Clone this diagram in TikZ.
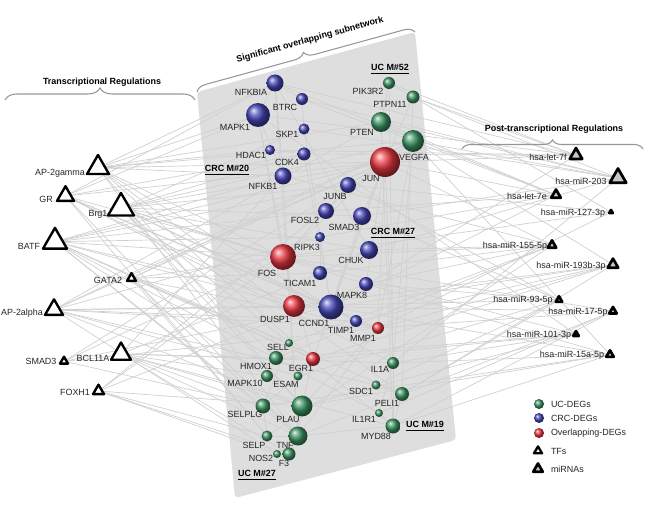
\documentclass[tikz,border=0pt]{standalone}
\usepackage{fontspec}
\setmainfont{Liberation Sans}
\usetikzlibrary{shapes.geometric,decorations.pathreplacing,backgrounds}
\definecolor{ucGene}{RGB}{62,150,100}
\definecolor{crcGene}{RGB}{70,70,185}
\definecolor{ovGene}{RGB}{235,55,65}
\definecolor{panelGray}{RGB}{222,222,222}
\definecolor{edgeGray}{RGB}{208,208,208}
\definecolor{braceGray}{RGB}{150,150,150}
\definecolor{mirFill}{RGB}{200,200,200}
\tikzset{
    every node/.append style={font=\fontsize{5.1}{6}\selectfont,inner sep=0pt,outer sep=0pt},
    gene/.style={circle,minimum size=#1*0.02cm},
    uc/.style={gene=#1,ball color=ucGene},
    crc/.style={gene=#1,ball color=crcGene},
    ovl/.style={gene=#1,ball color=ovGene},
    tri/.style={regular polygon,regular polygon sides=3,minimum size=#1*0.02cm,draw=black,line join=round},
    tf/.style={tri=#1,fill=white,line width=1.35pt},
    mir/.style={tri=#1,fill=mirFill,line width=1.55pt},
    lbl/.style={text=black!85},
    module/.style={font=\fontsize{5.1}{6}\selectfont\bfseries},
    head/.style={font=\fontsize{5.1}{6}\selectfont\bfseries},
    edge/.style={draw=edgeGray,line width=0.4pt},
    bracket/.style={draw=braceGray,line width=0.6pt,decorate,decoration={brace,amplitude=#1*0.02cm}}
}
\begin{document}
\begin{tikzpicture}[x=0.02cm,y=-0.02cm]
    \useasboundingbox (0,0) rectangle (650,517);

    % CRC M#20
    \node[crc=17] (nfkbia) at (275,83)  {};  \node[lbl] (nfkbia-l) at (251,92)  {NFKBIA};
    \node[crc=12] (btrc)   at (302,99)  {};  \node[lbl] (btrc-l)   at (285,107) {BTRC};
    \node[crc=24] (mapk1)  at (258,115) {};  \node[lbl] (mapk1-l)  at (235,127) {MAPK1};
    \node[crc=11] (skp1)   at (304,129) {};  \node[lbl] (skp1-l)   at (287,134) {SKP1};
    \node[crc=10] (hdac1)  at (270,150) {};  \node[lbl] (hdac1-l)  at (251,155) {HDAC1};
    \node[crc=13] (cdk4)   at (304,154) {};  \node[lbl] (cdk4-l)   at (287,162) {CDK4};
    \node[crc=17] (nfkb1)  at (283,176) {};  \node[lbl] (nfkb1-l)  at (263,186) {NFKB1};
    % UC M#52
    \node[uc=12]  (pik3r2) at (389,83)  {};  \node[lbl] (pik3r2-l) at (368,91)  {PIK3R2};
    \node[uc=13]  (ptpn11) at (413,97)  {};  \node[lbl] (ptpn11-l) at (390,104) {PTPN11};
    \node[uc=20]  (pten)   at (381,122) {};  \node[lbl] (pten-l)   at (362,132) {PTEN};
    \node[uc=22]  (vegfa)  at (413,141) {};  \node[lbl] (vegfa-l)  at (414,157) {VEGFA};
    \node[ovl=30] (jun)    at (385,162) {};  \node[lbl] (jun-l)    at (371,178) {JUN};
    % CRC M#27
    \node[crc=16] (junb)   at (348,185) {};  \node[lbl] (junb-l)   at (335,196) {JUNB};
    \node[crc=16] (fosl2)  at (326,211) {};  \node[lbl] (fosl2-l)  at (305,220) {FOSL2};
    \node[crc=18] (smad3)  at (362,216) {};  \node[lbl] (smad3-l)  at (344,227) {SMAD3};
    \node[crc=10] (ripk3)  at (320,237) {};  \node[lbl] (ripk3-l)  at (307,247) {RIPK3};
    \node[ovl=26] (fos)    at (283,257) {};  \node[lbl] (fos-l)    at (267,273) {FOS};
    \node[crc=18] (chuk)   at (369,250) {};  \node[lbl] (chuk-l)   at (351,260) {CHUK};
    \node[crc=14] (ticam1) at (320,273) {};  \node[lbl] (ticam1-l) at (300,283) {TICAM1};
    \node[crc=14] (mapk8)  at (366,284) {};  \node[lbl] (mapk8-l)  at (352,295) {MAPK8};
    \node[ovl=22] (dusp1)  at (294,306) {};  \node[lbl] (dusp1-l)  at (275,319) {DUSP1};
    \node[crc=25] (ccnd1)  at (331,307) {};  \node[lbl] (ccnd1-l)  at (314,323) {CCND1};
    \node[crc=12] (timp1)  at (356,321) {};  \node[lbl] (timp1-l)  at (341,330) {TIMP1};
    \node[ovl=12] (mmp1)   at (378,328) {};  \node[lbl] (mmp1-l)   at (363,338) {MMP1};
    % UC M#27
    \node[uc=8]   (sell)   at (289,343) {};  \node[lbl] (sell-l)   at (278,347) {SELL};
    \node[uc=14]  (hmox1)  at (276,358) {};  \node[lbl] (hmox1-l)  at (256,366) {HMOX1};
    \node[ovl=14] (egr1)   at (313,359) {};  \node[lbl] (egr1-l)   at (301,368) {EGR1};
    \node[uc=12]  (mapk10) at (267,376) {};  \node[lbl] (mapk10-l) at (245,383) {MAPK10};
    \node[uc=9]   (esam)   at (298,376) {};  \node[lbl] (esam-l)   at (286,384) {ESAM};
    \node[uc=15]  (selplg) at (263,406) {};  \node[lbl] (selplg-l) at (245,414) {SELPLG};
    \node[uc=21]  (plau)   at (302,406) {};  \node[lbl] (plau-l)   at (288,419) {PLAU};
    \node[uc=11]  (selp)   at (267,436) {};  \node[lbl] (selp-l)   at (254,445) {SELP};
    \node[uc=19]  (tnf)    at (298,436) {};  \node[lbl] (tnf-l)    at (285,445) {TNF};
    \node[uc=8]   (nos2)   at (277,454) {};  \node[lbl] (nos2-l)   at (261,458) {NOS2};
    \node[uc=13]  (f3)     at (289,454) {};  \node[lbl] (f3-l)     at (284,463) {F3};
    % UC M#19
    \node[uc=12]  (il1a)   at (393,363) {};  \node[lbl] (il1a-l)   at (380,369) {IL1A};
    \node[uc=9]   (sdc1)   at (376,385) {};  \node[lbl] (sdc1-l)   at (361,391) {SDC1};
    \node[uc=14]  (peli1)  at (402,394) {};  \node[lbl] (peli1-l)  at (387,403) {PELI1};
    \node[uc=8]   (il1r1)  at (379,413) {};  \node[lbl] (il1r1-l)  at (364,419) {IL1R1};
    \node[uc=15]  (myd88)  at (393,426) {};  \node[lbl] (myd88-l)  at (376,436) {MYD88};

    \node[module] (crc20) at (227,170) {\underline{CRC M\#20}};
    \node[module] (uc52)  at (390,69)  {\underline{UC M\#52}};
    \node[module] (crc27) at (393,233) {\underline{CRC M\#27}};
    \node[module] (uc19)  at (425,426) {\underline{UC M\#19}};
    \node[module] (uc27)  at (257,475) {\underline{UC M\#27}};

    % transcription factors
    \node[tf=25.4] (ap2g)    at (98,167.7)   {}; \node[lbl] (ap2g-l)    at (60,173)  {AP-2gamma};
    \node[tf=19.6] (gr)      at (65.5,196)   {}; \node[lbl] (gr-l)      at (46,199)  {GR};
    \node[tf=30]   (brg1)    at (121,208)    {}; \node[lbl] (brg1-l)    at (98,214)  {Brg1};
    \node[tf=27.7] (batf)    at (55,241.7)   {}; \node[lbl] (batf-l)    at (29,246)  {BATF};
    \node[tf=10.4] (gata2)   at (131.5,278.3){}; \node[lbl] (gata2-l)   at (108,280) {GATA2};
    \node[tf=20.8] (ap2a)    at (54,309.7)   {}; \node[lbl] (ap2a-l)    at (22,313)  {AP-2alpha};
    \node[tf=9.2]  (smad3tf) at (64,361.3)   {}; \node[lbl] (smad3tf-l) at (41,361)  {SMAD3};
    \node[tf=23]   (bcl11a)  at (121,354)    {}; \node[lbl] (bcl11a-l)  at (93,358)  {BCL11A};
    \node[tf=12.7] (foxh1)   at (98.5,391)   {}; \node[lbl] (foxh1-l)   at (75,392)  {FOXH1};

    % miRNAs
    \node[mir=14.4] (let7f)   at (576,155.3) {}; \node[lbl] (let7f-l)   at (548,157) {hsa-let-7f};
    \node[mir=19]   (mir203)  at (618,178)   {}; \node[lbl] (mir203-l)  at (581,181) {hsa-miR-203};
    \node[mir=11]   (let7e)   at (556,195)   {}; \node[lbl] (let7e-l)   at (527,196) {hsa-let-7e};
    \node[mir=4]    (mir127)  at (611,212)   {}; \node[lbl] (mir127-l)  at (573,213) {hsa-miR-127-3p};
    \node[mir=9.8]  (mir155)  at (552,245.3) {}; \node[lbl] (mir155-l)  at (515,246) {hsa-miR-155-5p};
    \node[mir=12.1] (mir193b) at (613,264.7) {}; \node[lbl] (mir193b-l) at (571,266) {hsa-miR-193b-3p};
    \node[mir=7.5]  (mir93)   at (559,300)   {}; \node[lbl] (mir93-l)   at (523,300) {hsa-miR-93-5p};
    \node[mir=8.7]  (mir17)   at (613,311.3) {}; \node[lbl] (mir17-l)   at (578,312) {hsa-miR-17-5p};
    \node[mir=6.4]  (mir101)  at (576,334.3) {}; \node[lbl] (mir101-l)  at (539,335) {hsa-miR-101-3p};
    \node[mir=8.7]  (mir15a)  at (610,354.7) {}; \node[lbl] (mir15a-l)  at (572,355) {hsa-miR-15a-5p};

    % headings
    \draw[bracket=12] (5,100) -- (195,100);
    \node[head] (trans) at (102,82) {Transcriptional Regulations};
    \draw[bracket=9] (462,149) -- (643,149);
    \node[head] (post) at (554,129) {Post-transcriptional Regulations};
    \draw[bracket=10] (197,92) -- (415,32);
    \node[head,rotate=15.4] (sub) at (310,40) {Significant overlapping subnetwork};

    % legend
    \node[uc=10]  (key-uc)  at (539,404) {}; \node[lbl,anchor=west] (key-uc-l)  at (551,404) {UC-DEGs};
    \node[crc=10] (key-crc) at (539,418) {}; \node[lbl,anchor=west] (key-crc-l) at (551,418) {CRC-DEGs};
    \node[ovl=10] (key-ovl) at (539,433) {}; \node[lbl,anchor=west] (key-ovl-l) at (551,433) {Overlapping-DEGs};
    \node[tf=9.2] (key-tf)  at (538,451) {}; \node[lbl,anchor=west] (key-tf-l)  at (551,451) {TFs};
    \node[mir=11] (key-mir) at (538,469) {}; \node[lbl,anchor=west] (key-mir-l) at (551,469) {miRNAs};

    \begin{scope}[on background layer]
        \fill[panelGray,rounded corners=2pt] (197,92) -- (415,32) -- (456,440) -- (235,498) -- cycle;
        % regulator edges
        \foreach \src/\dsts in {
            ap2g/{nfkbia,mapk1,hdac1,nfkb1,fos,jun,vegfa,pten,ccnd1,plau,tnf,egr1,peli1},
            gr/{nfkbia,mapk1,fos,jun,dusp1,ccnd1,il1a,tnf,selp,mmp1,cdk4},
            brg1/{jun,fos,ccnd1,cdk4,smad3,vegfa,hmox1,plau,myd88,timp1,chuk,junb,mapk8,skp1},
            batf/{fos,jun,junb,nfkb1,fosl2,ccnd1,dusp1,tnf,mapk10,selplg,egr1,il1r1,peli1,ripk3},
            gata2/{jun,fos,egr1,mmp1,selp,sell,vegfa,tnf,ticam1},
            ap2a/{jun,ccnd1,vegfa,mmp1,plau,pten,nos2,esam,sdc1,timp1,ripk3,dusp1},
            smad3tf/{jun,fos,mmp1,ccnd1,selplg},
            bcl11a/{tnf,f3,plau,nfkb1,ticam1,selplg,il1a,myd88,egr1,mapk10},
            foxh1/{jun,fos,mapk8,plau,f3,nos2,selp},
            let7f/{pik3r2,ptpn11,mapk1,ccnd1,hdac1,jun,cdk4,nfkbia},
            mir203/{vegfa,pten,skp1,btrc,il1a,smad3,chuk,ptpn11},
            let7e/{jun,nfkbia,fosl2,ccnd1,pten,ripk3,btrc},
            mir127/{ptpn11,mmp1,fos,junb},
            mir155/{fos,ticam1,chuk,mapk8,jun,sell,nfkb1,selp,hmox1},
            mir193b/{ccnd1,mmp1,timp1,vegfa,egr1,peli1,dusp1},
            mir93/{mapk8,peli1,sdc1,dusp1,junb,esam,smad3},
            mir17/{mmp1,il1r1,ccnd1,myd88,tnf,fos},
            mir101/{fos,egr1,mapk1,hmox1,il1a,plau},
            mir15a/{vegfa,ccnd1,mapk8,myd88,plau,selplg,il1a}}
            \foreach \dst in \dsts
                \draw[edge] (\src) -- (\dst);
        % gene-gene edges
        \foreach \a/\b in {nfkbia/mapk1,nfkbia/btrc,btrc/skp1,mapk1/nfkb1,nfkb1/nfkbia,hdac1/cdk4,
            cdk4/ccnd1,jun/fos,jun/junb,fos/fosl2,jun/vegfa,pten/pik3r2,ptpn11/pik3r2,pten/vegfa,
            jun/smad3,chuk/nfkbia,ripk3/ticam1,mapk8/jun,dusp1/mapk1,ccnd1/timp1,mmp1/timp1,
            tnf/plau,tnf/selp,plau/egr1,hmox1/sell,f3/tnf,nos2/tnf,myd88/il1r1,myd88/peli1,
            il1a/myd88,sdc1/peli1,esam/selplg,mapk10/hmox1,tnf/nfkb1,il1a/il1r1,vegfa/mmp1,
            jun/mmp1,smad3/ccnd1,ptpn11/jun,ccnd1/jun,egr1/jun,plau/mmp1,tnf/mmp1,fos/egr1,
            myd88/tnf,sell/selplg,selp/selplg,pten/myd88,pik3r2/il1a,nfkbia/tnf,mapk1/fos,
            skp1/ccnd1,fosl2/junb,chuk/ticam1,vegfa/il1a,ptpn11/peli1,jun/il1a}
            \draw[edge] (\a) -- (\b);
    \end{scope}
\end{tikzpicture}
\end{document}
